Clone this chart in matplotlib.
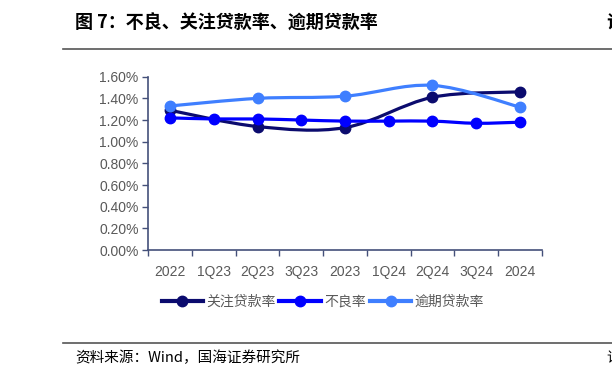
import matplotlib
matplotlib.use("Agg")
import matplotlib.pyplot as plt
import numpy as np
from matplotlib.path import Path
from matplotlib.patches import PathPatch
from matplotlib.lines import Line2D

plt.rcParams['font.family'] = ['Liberation Sans', 'Noto Sans CJK SC', 'DejaVu Sans']

# data (percent)
categories = ['2022', '1Q23', '2Q23', '3Q23', '2023', '1Q24', '2Q24', '3Q24', '2024']
attention_idx = [0, 2, 4, 6, 8]
attention_rate = [1.29, 1.14, 1.13, 1.41, 1.46]
npl_idx = [0, 1, 2, 3, 4, 5, 6, 7, 8]
npl_rate = [1.22, 1.21, 1.21, 1.20, 1.19, 1.19, 1.19, 1.17, 1.18]
overdue_idx = [0, 2, 4, 6, 8]
overdue_rate = [1.33, 1.40, 1.42, 1.52, 1.32]
series_names = ['关注贷款率', '不良率', '逾期贷款率']
colors = ['#0B0B6E', '#0000FF', '#3F7FFF']

def smooth_path(xs, ys):
    """Excel-like smooth line as cubic bezier path in data coords"""
    p = np.column_stack([xs, ys]).astype(float)
    ext = np.vstack([p[0], p, p[-1]])
    verts = [p[0]]
    codes = [Path.MOVETO]
    for i in range(1, len(ext) - 2):
        p0, p1, p2, p3 = ext[i - 1], ext[i], ext[i + 1], ext[i + 2]
        c1 = p1 + (p2 - p0) / 6.0
        c2 = p2 - (p3 - p1) / 6.0
        verts += [c1, c2, p2]
        codes += [Path.CURVE4] * 3
    return Path(verts, codes)

fig = plt.figure(figsize=(6.12, 3.82), dpi=100)
ax = fig.add_axes([0.2423, 0.3455, 0.6428, 0.4537])

lw = 2.3
ms = 7.5
all_series = [(attention_idx, attention_rate), (npl_idx, npl_rate), (overdue_idx, overdue_rate)]
for k, ((xs, ys), c) in enumerate(zip(all_series, colors)):
    ax.add_patch(PathPatch(smooth_path(xs, ys), fill=False, edgecolor=c, lw=lw,
                           zorder=2 + k, capstyle='round'))
    ax.plot(xs, ys, 'o', color=c, markersize=ms, linestyle='none', zorder=2.5 + k)

ax.set_xlim(-0.5, len(categories) - 0.5)
ax.set_ylim(0, 1.6)
ax.set_yticks(np.arange(0, 1.61, 0.2))
ax.set_yticklabels([f'{v:.2f}%' for v in np.arange(0, 1.61, 0.2)])
ax.set_xticks(range(len(categories)))
ax.set_xticklabels(categories)
ax.set_xticks(np.arange(-0.5, len(categories)), minor=True)
ax.tick_params(axis='x', which='major', length=0, pad=11)
ax.tick_params(axis='x', which='minor', length=4, width=1, color='#44507A', direction='out')
ax.tick_params(axis='y', length=4, width=1, color='#44507A', pad=3)
ax.tick_params(labelsize=10, labelcolor='#595959')
for s in ['top', 'right']:
    ax.spines[s].set_visible(False)
for s in ['left', 'bottom']:
    ax.spines[s].set_color('#44507A')
    ax.spines[s].set_linewidth(1.2)

handles = [Line2D([], [], color=c, lw=3, marker='o', markersize=ms) for c in colors]
leg = fig.legend(handles, series_names, loc='center', bbox_to_anchor=(0.527, 0.21),
                 ncol=3, frameon=False, handlelength=3.0, handletextpad=0.2,
                 columnspacing=0.3, prop={'family': ['Noto Sans CJK SC'], 'size': 10})
for t in leg.get_texts():
    t.set_color('#595959')

# header / footer
fig.text(75 / 612, 1 - 23 / 382, '图 7：不良、关注贷款率、逾期贷款率', fontsize=13,
         fontweight='bold', family=['Noto Sans CJK SC'], va='center', ha='left')
fig.add_artist(Line2D([63 / 612, 1], [1 - 49 / 382] * 2, color='#555555', lw=1.2))
fig.add_artist(Line2D([63 / 612, 1], [1 - 343 / 382] * 2, color='#555555', lw=1.2))
fig.text(75 / 612, 1 - 358 / 382, '资料来源：Wind，国海证券研究所', fontsize=10.5,
         family=['Noto Sans CJK SC'], va='center', ha='left')
fig.text(606 / 612, 1 - 23 / 382, '证', fontsize=13, fontweight='bold',
         family=['Noto Sans CJK SC'], va='center', ha='left')
fig.text(606 / 612, 1 - 358 / 382, '请', fontsize=10.5,
         family=['Noto Sans CJK SC'], va='center', ha='left')

fig.savefig('out.png', dpi=100)
